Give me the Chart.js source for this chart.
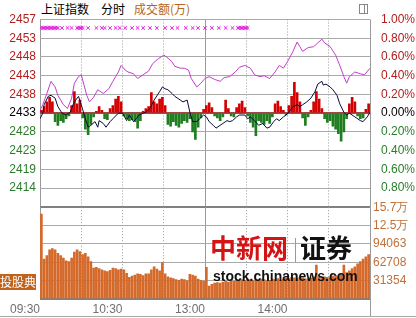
<!DOCTYPE html>
<html>
<head>
<meta charset="utf-8">
<script src="https://cdn.jsdelivr.net/npm/chart.js@4.4.0/dist/chart.umd.min.js"></script>
<style>
body{margin:0;background:#fff;width:416px;height:318px;overflow:hidden;position:relative;font-family:"Noto Sans CJK SC","Liberation Sans",sans-serif}
canvas{position:absolute;left:0}
#cTop{top:0}
#cVol{top:197px}
.hd{position:absolute;top:2px;font-size:12px;line-height:14px;color:#000}
#icon{position:absolute;left:359px;top:4px;width:7px;height:8px;border:1px solid #888}
#icon:after{content:"";position:absolute;left:4px;top:0;width:1px;height:8px;background:#888}
#logo{position:absolute;left:0;top:274px;width:36px;height:16px;background:#c0621a;color:#fff;font-size:12px;line-height:16px;text-align:right;z-index:5}
#wm1{position:absolute;left:210px;top:230px;font-size:26px;line-height:34px;font-weight:bold;color:#d41414;z-index:5}
#wmBar{position:absolute;left:295px;top:238px;width:1px;height:24px;background:#999;z-index:5}
#wm2{position:absolute;left:300px;top:230px;font-size:26px;line-height:34px;font-weight:bold;color:#111;z-index:5}
#wm3{position:absolute;left:213px;top:267px;font-family:"Liberation Sans",sans-serif;font-size:14px;line-height:18px;font-weight:bold;color:#111;z-index:5}
#rline{position:absolute;left:370px;top:299px;width:1px;height:18px;background:#999}
#bline{position:absolute;left:0;top:316px;width:416px;height:1px;background:#aaa}
</style>
</head>
<body>
<div class="hd" style="left:41px">上证指数</div>
<div class="hd" style="left:101px">分时</div>
<div class="hd" style="left:134px;color:#b5651d">成交额(万)</div>
<div id="icon"></div>
<canvas id="cTop" width="416" height="218"></canvas>
<canvas id="cVol" width="416" height="121"></canvas>
<div id="rline"></div>
<div id="bline"></div>
<div id="logo">投股典</div>
<div id="wm1">中新网</div>
<div id="wmBar"></div>
<div id="wm2">证券</div>
<div id="wm3">stock.chinanews.com</div>
<script>
// 坐标刻度
const leftLabels = ['', '2414', '2419', '2423', '2428', '2433', '2438', '2443', '2448', '2453', '2457'];
const rightLabels = ['', '0.80%', '0.60%', '0.40%', '0.20%', '0.00%', '0.20%', '0.40%', '0.60%', '0.80%', '1.00%'];
const timeLabels = ['09:30', '', '10:30', '', '13:00', '', '14:00', '', ''];
const volTicks = [0, 31354, 62708, 94063, 125417, 156770];
const volLabels = ['', '31354', '62708', '94063', '12.5万', '15.7万'];

// 紫线 (分钟, 涨跌%)
const magMin = [0, 2, 5, 8, 11, 13, 17, 20, 23, 25, 28, 30, 32, 34, 36, 39, 42, 46, 50, 53, 57, 59, 62, 64, 68, 71, 75, 79, 82, 86, 90, 92, 96, 98, 102, 105, 108, 110, 114, 117, 120, 123, 127, 131, 134, 138, 142, 145, 149, 153, 156, 160, 163, 167, 171, 174, 177, 180, 184, 187, 189, 191, 195, 199, 202, 205, 207, 211, 215, 218, 221, 223, 225, 229, 233, 236, 240];
const magVal = [0.03, 0.09, 0.21, 0.34, 0.28, 0.19, 0.09, 0.05, 0.16, 0.32, 0.39, 0.41, 0.30, 0.19, 0.12, 0.17, 0.25, 0.21, 0.26, 0.34, 0.44, 0.51, 0.46, 0.44, 0.42, 0.37, 0.41, 0.45, 0.53, 0.58, 0.62, 0.60, 0.55, 0.50, 0.48, 0.48, 0.46, 0.37, 0.28, 0.32, 0.37, 0.39, 0.36, 0.34, 0.38, 0.39, 0.44, 0.49, 0.51, 0.48, 0.41, 0.39, 0.40, 0.37, 0.44, 0.51, 0.48, 0.55, 0.66, 0.76, 0.71, 0.66, 0.70, 0.71, 0.75, 0.79, 0.75, 0.71, 0.62, 0.51, 0.39, 0.32, 0.39, 0.44, 0.42, 0.41, 0.48];

// 指数线
const idxMin = [0, 2, 3, 6, 8, 11, 13, 16, 19, 22, 24, 26, 28, 30, 33, 35, 37, 40, 42, 43, 46, 48, 51, 53, 57, 60, 63, 65, 68, 70, 72, 75, 77, 80, 83, 87, 89, 91, 93, 96, 98, 102, 104, 107, 109, 111, 114, 116, 119, 121, 123, 126, 128, 131, 133, 136, 138, 140, 143, 145, 149, 151, 153, 156, 159, 162, 165, 167, 170, 172, 174, 177, 179, 182, 184, 187, 189, 191, 194, 197, 200, 202, 205, 206, 208, 211, 213, 216, 218, 221, 223, 225, 229, 233, 235, 238, 240];
const idxVal = [-0.06, 0.00, 0.09, 0.18, 0.19, 0.16, 0.07, 0.00, -0.02, 0.01, 0.09, 0.14, 0.18, 0.09, -0.06, -0.15, -0.13, -0.09, -0.15, -0.08, -0.11, -0.15, -0.09, -0.06, 0.00, 0.00, -0.08, -0.02, -0.09, -0.06, -0.02, 0.00, 0.01, 0.05, 0.14, 0.23, 0.28, 0.26, 0.25, 0.21, 0.18, 0.14, 0.12, 0.14, 0.01, -0.09, -0.09, -0.06, -0.02, -0.04, -0.09, -0.13, -0.16, -0.13, -0.11, -0.08, -0.09, -0.08, -0.04, -0.02, -0.02, -0.06, -0.04, -0.08, -0.13, -0.11, -0.16, -0.15, -0.09, -0.06, -0.08, -0.04, -0.02, 0.03, 0.07, 0.09, 0.07, 0.09, 0.12, 0.16, 0.23, 0.31, 0.34, 0.30, 0.31, 0.28, 0.25, 0.19, 0.10, 0.01, -0.02, 0.00, -0.04, -0.08, -0.09, -0.04, 0.01];

// 顶部标记
const markMin = [1, 2, 3, 4, 5, 6, 7, 8, 9, 10, 11, 12, 13, 16, 20, 23, 27, 28, 29, 30, 31, 35, 41, 45, 47, 51, 55, 58, 62, 67, 71, 75, 80, 85, 91, 96, 100, 106, 111, 115, 120, 125, 130, 135, 140, 144, 145, 146, 147, 148, 149, 150, 151];
const markLevel = 0.91;

// 每两分钟一根柱
const slotMin = Array.from({ length: 120 }, (_, i) => 2 * i + 1);

// 红绿柱
const strength = [
  0.03, 0.07, 0.12, 0.17, 0.12, -0.09, -0.13, -0.08, -0.10, -0.06,
  -0.03, 0.08, 0.23, 0.10, 0.14, -0.05, -0.17, -0.23, -0.12, -0.04,
  0.02, 0.07, 0.03, -0.06, -0.07, 0.05, 0.08, 0.15, 0.18, 0.12,
  -0.03, -0.06, -0.08, -0.07, -0.09, -0.16, -0.08, 0.02, 0.05, 0.07,
  0.22, 0.12, 0.10, 0.15, 0.17, 0.08, -0.12, -0.14, -0.09, -0.13,
  -0.15, -0.11, -0.08, -0.10, -0.06, -0.20, -0.28, -0.15, -0.05, 0.04,
  0.08, 0.11, 0.06, -0.03, -0.05, -0.08, -0.04, 0.14, 0.05, -0.03,
  -0.04, 0.06, 0.10, 0.13, 0.06, -0.03, -0.10, -0.15, -0.24, -0.08,
  -0.10, -0.12, -0.08, -0.11, -0.04, 0.10, 0.13, 0.07, 0.03, -0.02,
  0.08, 0.18, 0.33, 0.22, 0.12, -0.05, -0.13, -0.04, 0.03, 0.12,
  0.23, 0.15, 0.05, -0.06, -0.10, -0.08, -0.14, -0.17, -0.22, -0.30,
  -0.20, -0.06, 0.10, 0.17, 0.12, -0.03, -0.06, -0.05, 0.04, 0.10
];

// 成交额
const volume = [
  145000, 68000, 74000, 84000, 86000, 84000, 78000, 74000, 70000, 65000,
  64000, 70000, 80000, 84000, 81000, 76000, 78000, 72000, 64000, 53000,
  54000, 52000, 50000, 48000, 47000, 49000, 53000, 52000, 50000, 51000,
  50000, 44000, 37000, 39000, 41000, 43000, 42000, 40000, 43000, 43000,
  50000, 55000, 51000, 48000, 62000, 43000, 38000, 36000, 35000, 33000,
  32000, 34000, 33000, 31000, 42000, 41000, 39000, 34000, 32000, 30000,
  54000, 22000, 25000, 27000, 28000, 27000, 29000, 30000, 29000, 31000,
  30000, 32000, 31000, 33000, 32000, 34000, 33000, 31000, 33000, 32000,
  34000, 33000, 31000, 32000, 34000, 33000, 35000, 32000, 34000, 36000,
  35000, 37000, 36000, 35000, 37000, 36000, 34000, 35000, 36000, 38000,
  58000, 37000, 36000, 38000, 37000, 36000, 39000, 40000, 38000, 41000,
  58000, 45000, 48000, 52000, 55000, 60000, 64000, 68000, 72000, 76000
];

Chart.defaults.font.family = 'Liberation Sans';
Chart.defaults.font.size = 12;

const solidTimes = [0, 120, 240];
function timeDash(ctx) {
  if (ctx.tick && !solidTimes.includes(ctx.tick.value)) return [1, 2];
  return [];
}
function signColor(ctx) {
  const v = ctx.tick ? ctx.tick.value : 0;
  if (v > 0.001) return '#b01e1e';
  if (v < -0.001) return '#2a7d2a';
  return '#000';
}

new Chart(document.getElementById('cTop'), {
  type: 'bar',
  data: {
    datasets: [{
      type: 'line',
      data: idxMin.map((m, i) => ({ x: m, y: idxVal[i] })),
      borderColor: '#0a0a3a',
      borderWidth: 1,
      pointRadius: 0,
      order: 0
    }, {
      type: 'line',
      data: magMin.map((m, i) => ({ x: m, y: magVal[i] })),
      borderColor: '#c040c8',
      borderWidth: 1,
      pointRadius: 0,
      order: 1
    }, {
      type: 'scatter',
      data: markMin.map(m => ({ x: m, y: markLevel })),
      pointStyle: 'crossRot',
      pointRadius: 2.5,
      borderColor: '#e020e0',
      borderWidth: 1,
      order: 2
    }, {
      type: 'bar',
      data: slotMin.map((m, i) => ({ x: m, y: strength[i] })),
      backgroundColor: ctx => (ctx.raw && ctx.raw.y >= 0) ? '#d40000' : '#1e7d1e',
      barThickness: 2,
      order: 3
    }]
  },
  options: {
    responsive: false,
    animation: false,
    layout: { padding: { top: 19.5, bottom: 0, left: 0, right: 0 } },
    plugins: { legend: { display: false }, tooltip: { enabled: false } },
    scales: {
      x: {
        type: 'linear', min: 0, max: 240, offset: false,
        ticks: { display: false, stepSize: 30 },
        grid: { color: '#9a9a9a', drawTicks: false, offset: false },
        border: { display: false, dash: timeDash },
        afterFit: s => { s.height = 0; }
      },
      y: {
        position: 'left', min: -1, max: 1,
        ticks: { stepSize: 0.2, autoSkip: false, callback: (v, i) => leftLabels[i], color: signColor, padding: 4 },
        grid: {
          drawTicks: false,
          color: ctx => Math.abs(ctx.tick.value) < 0.001 ? '#a04848' : (ctx.tick.value < -0.99 ? '#808080' : '#aaaaaa'),
          lineWidth: ctx => (Math.abs(ctx.tick.value) < 0.001 || ctx.tick.value < -0.99) ? 2 : 1
        },
        border: { display: false },
        afterFit: s => { s.width = 40; }
      },
      yr: {
        position: 'right', min: -1, max: 1,
        ticks: { stepSize: 0.2, autoSkip: false, callback: (v, i) => rightLabels[i], color: signColor, padding: 3 },
        grid: { display: false },
        border: { display: false },
        afterFit: s => { s.width = 46; }
      }
    }
  }
});

new Chart(document.getElementById('cVol'), {
  type: 'bar',
  data: {
    datasets: [{
      data: slotMin.map((m, i) => ({ x: m, y: volume[i] })),
      backgroundColor: '#d4692a',
      barThickness: 2,
      yAxisID: 'yv'
    }]
  },
  options: {
    responsive: false,
    animation: false,
    layout: { padding: { top: 0, bottom: 0, left: 40, right: 0 } },
    plugins: { legend: { display: false }, tooltip: { enabled: false } },
    scales: {
      x: {
        type: 'linear', min: 0, max: 240, offset: false,
        ticks: { stepSize: 30, autoSkip: false, maxRotation: 0, align: 'end', callback: (v, i) => timeLabels[i], color: '#707070', padding: 3 },
        grid: { color: '#9a9a9a', drawTicks: false, offset: false },
        border: { display: false, dash: timeDash },
        afterFit: s => { s.height = 19; }
      },
      yv: {
        position: 'right', min: 0, max: 156770,
        afterBuildTicks: s => { s.ticks = volTicks.map(v => ({ value: v })); },
        ticks: { autoSkip: false, callback: (v, i) => volLabels[i], color: '#c0703a', padding: 3 },
        grid: {
          drawTicks: false,
          color: ctx => ctx.tick.value === 0 ? '#808080' : (ctx.tick.value === 156770 ? 'rgba(0,0,0,0)' : '#aaaaaa'),
          lineWidth: ctx => ctx.tick.value === 0 ? 2 : 1
        },
        border: { display: false },
        afterFit: s => { s.width = 46; }
      }
    }
  }
});
</script>
</body>
</html>
